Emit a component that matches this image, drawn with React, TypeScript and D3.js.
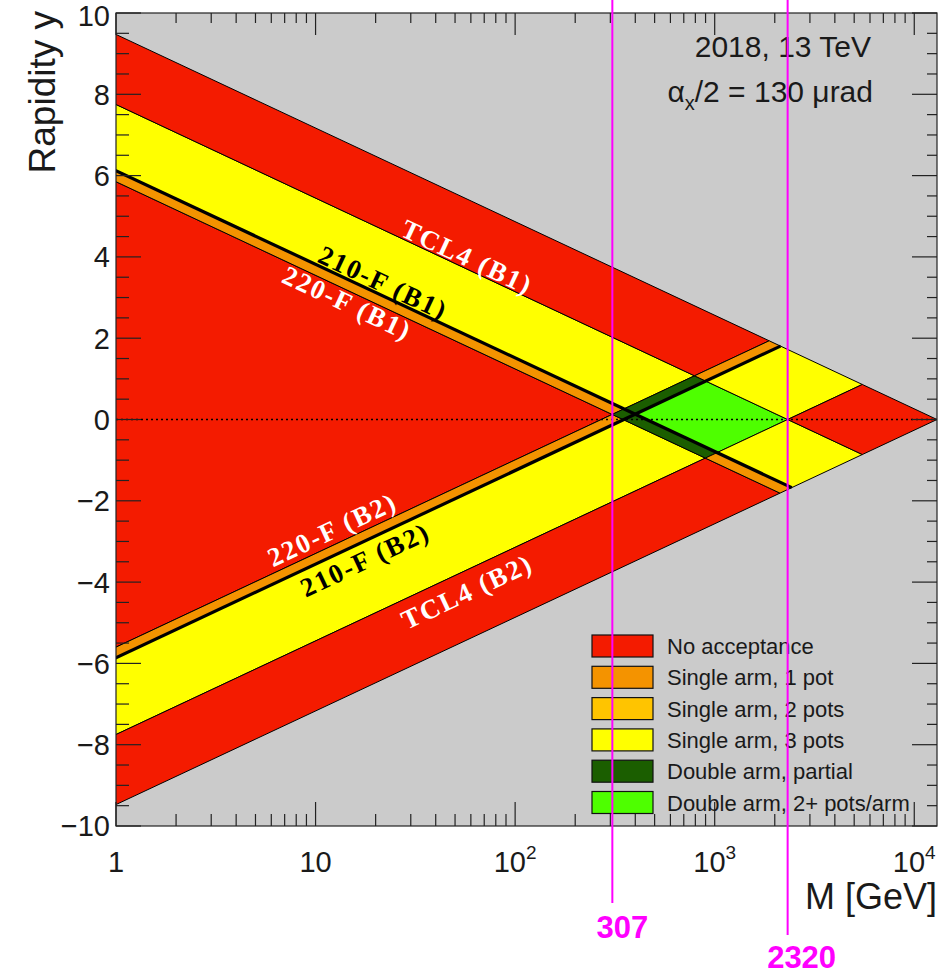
import * as d3 from 'd3';

// --- data ---
const sqrtS = 13000; // GeV
const armNames = ['B1', 'B2'];
// xi acceptance limits per arm (B1, B2)
const xiTCL4 = [0.1785, 0.1785];
const xi210F = [0.035, 0.027];
const xi220F = [0.0267, 0.0208];
// number of pots that see the proton in each xi band:
// below 220-F, 220-F..210-F, 210-F..TCL4, above TCL4
const potsPerBand = [0, 1, 3, 0];
const markerMasses = [307, 2320];
const yTickValues = d3.range(-10, 11, 2);
const xTickDecades = [0, 1, 2, 3, 4];

const legendLabels = [
  'No acceptance',
  'Single arm, 1 pot',
  'Single arm, 2 pots',
  'Single arm, 3 pots',
  'Double arm, partial',
  'Double arm, 2+ pots/arm',
];
const legendColors = ['#f41b00', '#f49300', '#ffc400', '#ffff00', '#1b5e00', '#4eff00'];

const lineLabelTexts = ['TCL4 (B1)', '210-F (B1)', '220-F (B1)', '220-F (B2)', '210-F (B2)', 'TCL4 (B2)'];
const lineLabelArms = [0, 0, 0, 1, 1, 1];
const lineLabelLimits = [xiTCL4[0], xi210F[0], xi220F[0], xi220F[1], xi210F[1], xiTCL4[1]];

// --- layout ---
const W = 946;
const H = 974;
const left = 116;
const right = 937;
const top = 13;
const bottom = 826;
const gray = '#cbcbcb';
const textColor = '#1a1a1a';
const magenta = '#ff00ff';
// where each line label sits: mass at its centre and vertical shift from the line
const labelMass = [57.4, 21.8, 14.4, 12.1, 17.7, 57.4];
const labelShift = [-12, -13, 13, -16, 19, 22];
const labelFill = ['#fff', '#000', '#fff', '#fff', '#000', '#fff'];

const x = d3.scaleLog().domain([1, sqrtS]).range([left, right]);
const y = d3.scaleLinear().domain([-10, 10]).range([bottom, top]);

const L = Math.log(sqrtS);
const lowCut = -2 * L - 1;

// (ln xi1, ln xi2) -> pixel
function pt(u: number, v: number): [number, number] {
  const M = sqrtS * Math.exp((u + v) / 2);
  return [x(M), y((u - v) / 2)];
}

function cuts(arm: number) {
  return [lowCut, Math.log(xi220F[arm]), Math.log(xi210F[arm]), Math.log(xiTCL4[arm]), 0];
}

function cellColor(i: number, j: number) {
  const p1 = potsPerBand[i];
  const p2 = potsPerBand[j];
  if (p1 && p2) return p1 >= 2 && p2 >= 2 ? legendColors[5] : legendColors[4];
  const p = p1 || p2;
  if (p === 1) return legendColors[1];
  if (p === 2) return legendColors[2];
  if (p === 3) return legendColors[3];
  return legendColors[0];
}

const u = cuts(0);
const v = cuts(1);
const line = d3.line();

const cells: { d: string; fill: string }[] = [];
for (let i = 0; i < 4; i++) {
  for (let j = 0; j < 4; j++) {
    const poly = [pt(u[i], v[j]), pt(u[i + 1], v[j]), pt(u[i + 1], v[j + 1]), pt(u[i], v[j + 1])];
    cells.push({ d: line(poly) + 'Z', fill: cellColor(i, j) });
  }
}

const thickLines = [
  line([pt(u[2], lowCut), pt(u[2], 0)]),
  line([pt(lowCut, v[2]), pt(0, v[2])]),
];

const angle = (Math.atan2(y(0) - y(1), x(Math.E) - x(1)) * 180) / Math.PI;

const lineLabels = lineLabelTexts.map((text, k) => {
  const arm = lineLabelArms[k];
  const M = labelMass[k];
  const lnRatio = Math.log(M / sqrtS);
  const lnXi = Math.log(lineLabelLimits[k]);
  const rap = arm === 0 ? lnXi - lnRatio : lnRatio - lnXi;
  return {
    text,
    cx: x(M),
    cy: y(rap) + labelShift[k],
    rot: arm === 0 ? angle : -angle,
    fill: labelFill[k],
  };
});

// ticks
const yTicks = d3.range(-10, 10.01, 0.5).map((t) => ({ t, major: Math.abs(t % 2) < 1e-9 }));
const xTicks: { m: number; major: boolean }[] = [];
xTickDecades.forEach((dcd) => {
  for (let k = 1; k <= 9; k++) {
    const m = k * Math.pow(10, dcd);
    if (m <= sqrtS) xTicks.push({ m, major: k === 1 });
  }
});

const supDigits = ['', '', '2', '3', '4'];

export default function App() {
  return (
    <svg
      width={W}
      height={H}
      style={{ position: 'absolute', left: 0, top: 0, background: '#fff' }}
      fontFamily="'Liberation Sans', Arial, sans-serif"
    >
      <defs>
        <clipPath id="plot">
          <rect x={left} y={top} width={right - left} height={bottom - top} />
        </clipPath>
      </defs>
      <rect x={left} y={top} width={right - left} height={bottom - top} fill={gray} />
      <g clipPath="url(#plot)">
        {cells.map((c, k) => (
          <path key={k} d={c.d} fill={c.fill} stroke="#000" strokeWidth={1} strokeLinejoin="round" />
        ))}
        {thickLines.map((d, k) => (
          <path key={k} d={d || ''} stroke="#000" strokeWidth={3.2} fill="none" />
        ))}
        <line x1={left} x2={right} y1={y(0)} y2={y(0)} stroke="#000" strokeWidth={1.5} strokeDasharray="2,3" />
      </g>

      {/* line labels */}
      {lineLabels.map((lb, k) => (
        <text
          key={k}
          transform={`translate(${lb.cx},${lb.cy}) rotate(${lb.rot})`}
          textAnchor="middle"
          dominantBaseline="central"
          fontFamily="'Liberation Serif', 'Times New Roman', serif"
          fontWeight="bold"
          fontSize={27}
          letterSpacing={1.8}
          fill={lb.fill}
        >
          {lb.text}
        </text>
      ))}

      {/* ticks */}
      <g stroke="#222" strokeWidth={1.2}>
        {yTicks.map(({ t, major }, k) => (
          <g key={k}>
            <line x1={left} x2={left + (major ? 25 : 13)} y1={y(t)} y2={y(t)} />
            <line x1={right} x2={right - (major ? 25 : 10)} y1={y(t)} y2={y(t)} />
          </g>
        ))}
        {xTicks.map(({ m, major }, k) => (
          <g key={k}>
            <line x1={x(m)} x2={x(m)} y1={bottom} y2={bottom - (major ? 24 : 12)} />
            <line x1={x(m)} x2={x(m)} y1={top} y2={top + (major ? 22 : 10)} />
          </g>
        ))}
      </g>
      <rect x={left} y={top} width={right - left} height={bottom - top} fill="none" stroke="#222" strokeWidth={1.2} />

      {/* y tick labels */}
      {yTickValues.map((t) => (
        <text key={t} x={110} y={Math.max(y(t) + 10.4, 26)} textAnchor="end" fontSize={29} fill={textColor}>
          {t < 0 ? '\u2212' + Math.abs(t) : String(t)}
        </text>
      ))}
      {/* x tick labels */}
      {xTickDecades.map((dcd) => (
        <text key={dcd} x={x(Math.pow(10, dcd))} y={872} textAnchor="middle" fontSize={29} fill={textColor}>
          {dcd === 0 ? '1' : '10'}
          {supDigits[dcd] && (
            <tspan fontSize={19} dy={-13}>
              {supDigits[dcd]}
            </tspan>
          )}
        </text>
      ))}

      <text transform={`translate(55,${top - 2}) rotate(-90)`} textAnchor="end" fontSize={37} fill={textColor}>
        Rapidity y
      </text>
      <text x={right} y={909} textAnchor="end" fontSize={36} fill={textColor}>
        M [GeV]
      </text>

      <text x={871} y={57} textAnchor="end" fontSize={30} fill={textColor}>
        2018, 13 TeV
      </text>
      <text x={873} y={102} textAnchor="end" fontSize={30} fill={textColor}>
        α
        <tspan fontSize={20} dy={8}>
          x
        </tspan>
        <tspan dy={-8}>/2 = 130 μrad</tspan>
      </text>

      {/* legend */}
      {legendLabels.map((lab, k) => {
        const cy = 646 + k * 31.3;
        return (
          <g key={lab}>
            <rect x={592} y={cy - 11} width={61} height={22} fill={legendColors[k]} stroke="#111" strokeWidth={1.2} />
            <text x={667} y={cy + 8} fontSize={22} fill={textColor}>
              {lab}
            </text>
          </g>
        );
      })}

      {/* marker masses */}
      {markerMasses.map((m, k) => (
        <g key={m}>
          <line x1={x(m)} x2={x(m)} y1={0} y2={k === 0 ? 903 : 935} stroke={magenta} strokeWidth={2} />
          <text
            x={x(m) + (k === 0 ? 10 : 14)}
            y={k === 0 ? 938 : 968}
            textAnchor="middle"
            fontSize={31}
            fontWeight="bold"
            fill={magenta}
          >
            {m}
          </text>
        </g>
      ))}
    </svg>
  );
}
